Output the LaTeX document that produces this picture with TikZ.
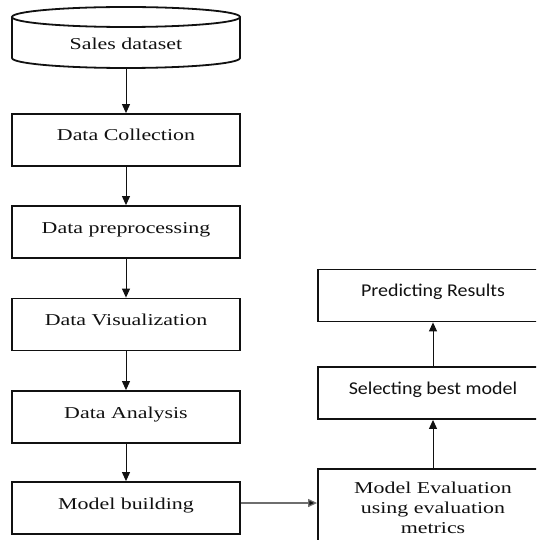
\documentclass[tikz,border=0pt]{standalone}
\usepackage{fontspec}
\setmainfont{Liberation Serif}[FakeStretch=1.32]
\newfontfamily\calfont{Carlito}[FakeStretch=1.11]
\usetikzlibrary{arrows.meta,positioning}
\definecolor{flowInk}{HTML}{111111}
\definecolor{flowGrey}{HTML}{6E6E6E}

\begin{document}
\begin{tikzpicture}[x=1pt,y=-1pt,>={Triangle[length=9pt,width=8pt]},line join=miter]
\useasboundingbox (0,0) rectangle (536,540);
\path[fill=white] (0,0) rectangle (536,540);
\clip (0,0) rectangle (536,540);
\tikzset{frame/.style={draw=flowInk,line width=1.8pt,minimum width=228pt,inner sep=0pt,font=\fontsize{16.6}{20}\selectfont,text=flowInk},
  box/.style={frame,minimum height=52pt,text height=7pt,text depth=5pt},
  calbox/.style={box,minimum width=230pt,font=\calfont\fontsize{18}{21}\selectfont},
  flow/.style={draw=flowInk,line width=1pt,->},
  greyflow/.style={draw=flowGrey,line width=1.2pt,-{Triangle[length=9pt,width=8pt,fill=flowInk]}}}
% dataset cylinder
\draw[flowInk,line width=1.8pt] (12,17) -- (12,58) arc[start angle=180,end angle=0,x radius=114,y radius=10] -- (240,17);
\draw[flowInk,line width=1.8pt] (126,17) ellipse[x radius=114,y radius=10];
\node[font=\fontsize{16.6}{20}\selectfont,text=flowInk,text height=6pt,text depth=6pt] (sales) at (126,50) {Sales dataset};
\coordinate (salesbot) at (126,68);
% left column
\node[box] (collect) at (126,140) {Data Collection};
\node[box] (prep) at (126,232) {Data preprocessing};
\node[box] (visual) at (126,324.5) {Data Visualization};
\node[box] (analysis) at (126,417) {Data Analysis};
\node[box] (build) at (126,508) {Model building};
% right column
\node[frame,minimum width=230pt,minimum height=78pt,align=center] (evalm) at (433,508) {Model Evaluation\\using evaluation\\metrics};
\node[calbox] (select) at (433,393) {Selecting best model};
\node[calbox] (predict) at (433,295.5) {Predicting Results};
% connectors
\draw[flow] (salesbot) -- (collect);
\draw[flow] (collect) -- (prep);
\draw[flow] (prep) -- (visual);
\draw[flow] (visual) -- (analysis);
\draw[flow] (analysis) -- (build);
\draw[greyflow] (build.east |- 0,503) -- (evalm.west |- 0,503);
\draw[flow] (evalm) -- (select);
\draw[flow] (select) -- (predict);
\end{tikzpicture}
\end{document}
